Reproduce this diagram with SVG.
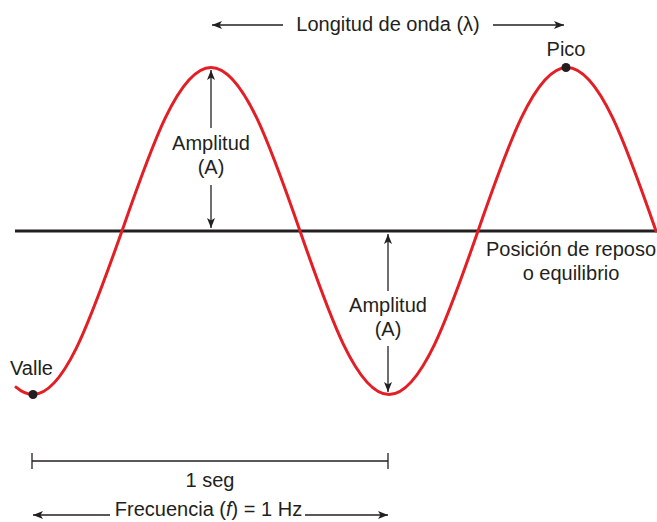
<svg xmlns="http://www.w3.org/2000/svg" width="657" height="522" viewBox="0 0 657 522">
<style>
text{font-family:"Liberation Sans",Arial,sans-serif;font-size:20px;fill:#231f20}
.c{text-anchor:middle}
.ln{stroke:#231f20;stroke-width:1.3;fill:none}
.wave{stroke:#e31e24;stroke-width:3;fill:none;stroke-linecap:round}
</style>
<defs>
<marker id="ah" viewBox="0 0 10 8" refX="10" refY="4" markerWidth="10" markerHeight="8" markerUnits="userSpaceOnUse" orient="auto">
<path d="M0,0 L10,4 L0,8 L2.5,4 Z" fill="#231f20"/>
</marker>
</defs>
<rect width="657" height="522" fill="#fff"/>
<g id="axis">
<line x1="15" y1="231" x2="657" y2="231" stroke="#231f20" stroke-width="3"/>
</g>
<g id="wave">
<path class="wave" d="M16,387.2 C21.67,392 27.3,394.5 33,394.5 C65.2,394.5 92,314.5 122,231 C151,147.5 178.8,67.5 211,67.5 C243.2,67.5 271,147.5 300,231 C329,314.5 356.8,394.5 389,394.5 C421.2,394.5 449,314.5 478,231 C507,147.5 534.8,67.5 567,67.5 C599.2,67.5 627,147.5 656,231"/>
</g>
<g id="valle">
<circle cx="33" cy="394.5" r="4.5" fill="#231f20"/>
<text x="10" y="375">Valle</text>
</g>
<g id="pico">
<circle cx="566" cy="67.5" r="4.5" fill="#231f20"/>
<text class="c" x="566" y="56">Pico</text>
</g>
<g id="reposo">
<text class="c" x="571" y="256">Posición de reposo</text>
<text class="c" x="571" y="280">o equilibrio</text>
</g>
<g id="amplitud1">
<text class="c" x="211" y="150">Amplitud</text>
<text class="c" x="211" y="174">(A)</text>
</g>
<g id="amplitud2">
<text class="c" x="388" y="312">Amplitud</text>
<text class="c" x="388" y="336">(A)</text>
</g>
<g id="longitud">
<text class="c" x="388" y="31">Longitud de onda (λ)</text>
</g>
<g id="seg">
<text class="c" x="210" y="487">1 seg</text>
</g>
<g id="frecuencia">
<text class="c" x="208.5" y="516">Frecuencia (<tspan font-style="italic">f</tspan>) = 1 Hz</text>
</g>
<g id="connectors">
<line class="ln" x1="211" y1="128" x2="211" y2="70" marker-end="url(#ah)"/>
<line class="ln" x1="211" y1="185" x2="211" y2="228" marker-end="url(#ah)"/>
<line class="ln" x1="388" y1="291" x2="388" y2="234" marker-end="url(#ah)"/>
<line class="ln" x1="388" y1="346" x2="388" y2="392" marker-end="url(#ah)"/>
<line class="ln" x1="283" y1="25" x2="212" y2="25" marker-end="url(#ah)"/>
<line class="ln" x1="493" y1="25" x2="564" y2="25" marker-end="url(#ah)"/>
<line class="ln" x1="32" y1="461" x2="388" y2="461"/>
<line class="ln" x1="32" y1="453" x2="32" y2="469"/>
<line class="ln" x1="388" y1="453" x2="388" y2="469"/>
<line class="ln" x1="110" y1="515" x2="33" y2="515" marker-end="url(#ah)"/>
<line class="ln" x1="305" y1="515" x2="388" y2="515" marker-end="url(#ah)"/>
</g>
</svg>
